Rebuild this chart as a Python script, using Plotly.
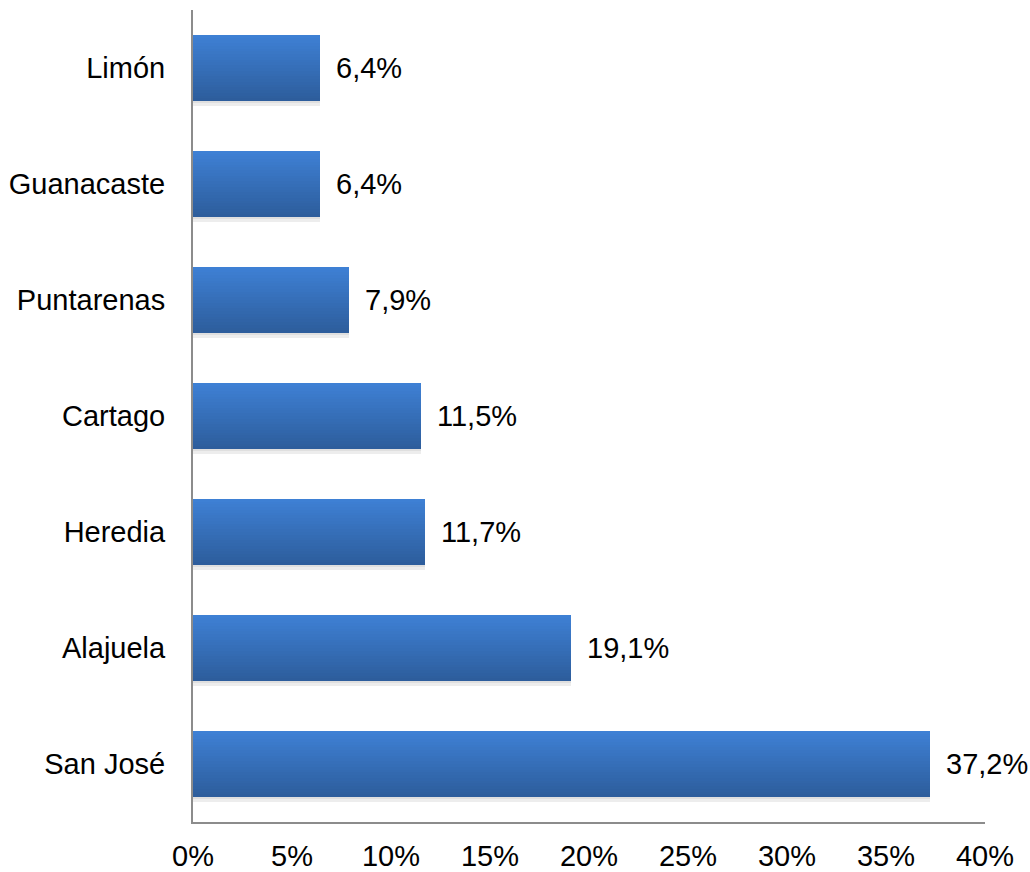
import plotly.graph_objects as go

# Share by province (%)
provinces = ["San José", "Alajuela", "Heredia", "Cartago", "Puntarenas", "Guanacaste", "Limón"]
shares = [37.2, 19.1, 11.7, 11.5, 7.9, 6.4, 6.4]
x_ticks = [0, 5, 10, 15, 20, 25, 30, 35, 40]

FONT = "Liberation Sans, Arial, sans-serif"
BAR_W = 0.57
N_SLICES = 24
TOP_RGB = (62, 128, 212)
BOT_RGB = (45, 93, 156)

fig = go.Figure()

# soft shadow under each bar
for k, a in enumerate([0.22, 0.12]):
    fig.add_trace(go.Bar(
        y=provinces, x=shares, orientation="h",
        width=0.02, offset=-BAR_W / 2 - 0.02 * (k + 1),
        marker=dict(color=f"rgba(110,110,110,{a})", line=dict(width=0)),
        hoverinfo="skip", showlegend=False,
    ))

# vertical gradient built from thin horizontal slices of each bar
slice_w = BAR_W / N_SLICES
for i in range(N_SLICES):
    t = i / (N_SLICES - 1)  # 0 = bottom, 1 = top
    r, g, b = (round(BOT_RGB[k] + (TOP_RGB[k] - BOT_RGB[k]) * t) for k in range(3))
    fig.add_trace(go.Bar(
        y=provinces, x=shares, orientation="h",
        width=slice_w * 1.1, offset=-BAR_W / 2 + i * slice_w,
        marker=dict(color=f"rgb({r},{g},{b})", line=dict(width=0)),
        hoverinfo="skip", showlegend=False,
    ))

# value labels
for p, v in zip(provinces, shares):
    fig.add_annotation(
        x=v, y=p, text=f"{v:.1f}%".replace(".", ","),
        xanchor="left", yanchor="middle", xshift=14, showarrow=False,
        font=dict(family=FONT, size=29, color="#000000"),
    )

fig.update_layout(
    width=1030, height=872,
    margin=dict(l=193, r=45, t=10, b=50),
    paper_bgcolor="white", plot_bgcolor="white",
    barmode="overlay", bargap=0,
    font=dict(family=FONT, size=29, color="#000000"),
    showlegend=False,
)
fig.update_xaxes(
    range=[0, 40], tickvals=x_ticks, ticktext=[f"{t}%" for t in x_ticks],
    showgrid=False, zeroline=False, showline=True, linecolor="#8c8c8c", linewidth=2,
    ticks="", ticklabelstandoff=7, automargin=False,
)
fig.update_yaxes(
    categoryorder="array", categoryarray=provinces, range=[-0.5, 6.5],
    showgrid=False, zeroline=False, showline=True, linecolor="#8c8c8c", linewidth=2,
    ticks="", ticklabelstandoff=20, automargin=False,
)

fig.write_html("out.html")
